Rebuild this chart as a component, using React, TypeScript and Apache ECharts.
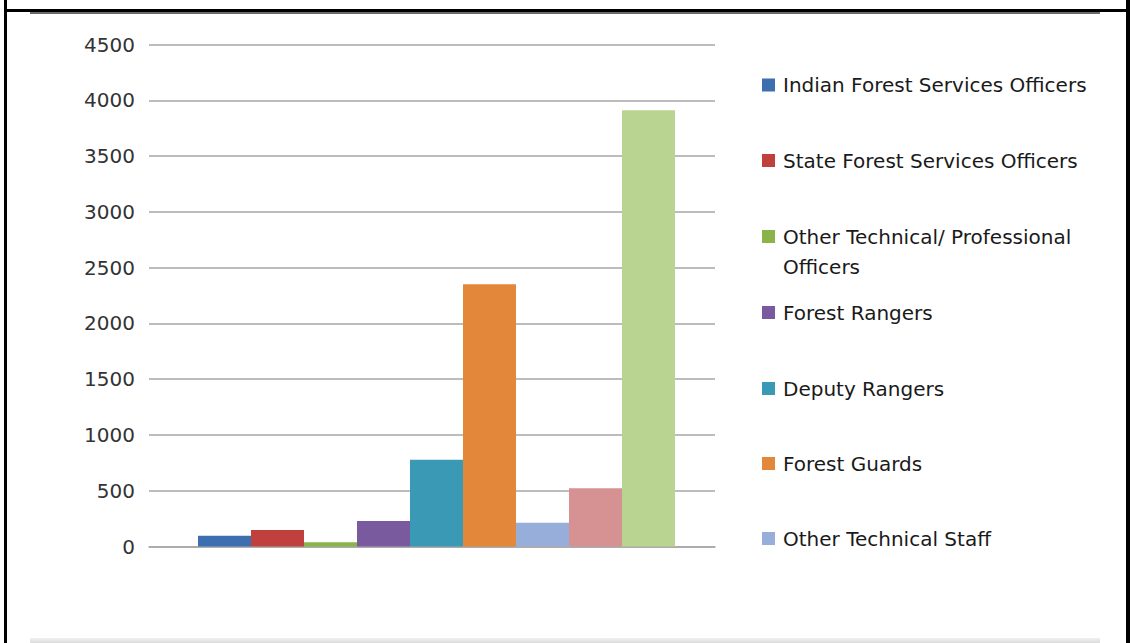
import React, { useEffect, useRef } from "react";
import * as echarts from "echarts";

const seriesNames = [
  "Indian Forest Services Officers",
  "State Forest Services Officers",
  "Other Technical/ Professional Officers",
  "Forest Rangers",
  "Deputy Rangers",
  "Forest Guards",
  "Other Technical Staff",
  "Ministerial Staff",
  "Other Staff",
];
const seriesValues = [97, 148, 38, 228, 778, 2350, 213, 522, 3910];
const seriesColors = [
  "#3D6FB0",
  "#C0403D",
  "#8AB34A",
  "#7A5A9E",
  "#3A9AB5",
  "#E3883A",
  "#98AEDA",
  "#D69292",
  "#B8D490",
];
const legendShown = 7;
const legendCenters = [85, 160.5, 236.5, 312.5, 388.5, 463.5, 538.5];
const categories = ["Staff"];

const FONT = "DejaVu Sans";

export default function App() {
  const ref = useRef<HTMLDivElement>(null);
  useEffect(() => {
    if (!ref.current) return;
    const chart = echarts.init(ref.current, undefined, { renderer: "svg" });
    const legends = seriesNames.slice(0, legendShown).map((name, i) => {
      const multi = i === 2;
      return {
        data: [name],
        left: 762,
        top: multi ? legendCenters[i] - 45 : legendCenters[i] - 15,
        orient: "vertical",
        padding: 0,
        itemWidth: 13,
        itemHeight: 13,
        icon: "rect",
        selectedMode: false,
        formatter: multi
          ? () => " \nOther Technical/ Professional\nOfficers"
          : undefined,
        textStyle: {
          fontFamily: FONT,
          fontSize: 20,
          color: "#1a1a1a",
          lineHeight: 30,
          padding: [0, 0, 0, 3],
        },
      };
    });
    const bars = seriesNames.map((name, i) => ({
      name,
      type: "bar",
      data: [seriesValues[i]],
      barWidth: 53,
      barGap: "0%",
      itemStyle: { color: seriesColors[i] },
    }));
    chart.setOption({
      animation: false,
      backgroundColor: "#ffffff",
      grid: { left: 149, right: 416, top: 44.5, bottom: 96.5 },
      legend: legends,
      xAxis: {
        type: "category",
        data: categories,
        axisLine: { show: true, lineStyle: { color: "#a6a6a6", width: 1.5 } },
        axisTick: { show: false },
        axisLabel: { show: false },
      },
      yAxis: {
        type: "value",
        min: 0,
        max: 4500,
        interval: 500,
        axisLine: { show: false },
        axisTick: { show: false },
        axisLabel: {
          fontFamily: FONT,
          fontSize: 20,
          color: "#333333",
          margin: 14,
          formatter: (v: number) => String(v),
        },
        splitLine: { lineStyle: { color: "#a6a6a6", width: 1.5 } },
      },
      series: [
        {
          name: "spacer",
          type: "bar",
          data: [null],
          barWidth: 9,
          barGap: "0%",
          silent: true,
        },
        ...bars,
      ],
      graphic: [
        { type: "rect", shape: { x: 4, y: 0, width: 3, height: 643 }, style: { fill: "#000" } },
        { type: "rect", shape: { x: 1126, y: 0, width: 4, height: 643 }, style: { fill: "#000" } },
        { type: "rect", shape: { x: 4, y: 9, width: 1126, height: 3 }, style: { fill: "#000" } },
        { type: "rect", shape: { x: 30, y: 12, width: 1070, height: 2 }, style: { fill: "#6a6a6a" } },
        {
          type: "rect",
          shape: { x: 30, y: 638, width: 1070, height: 5 },
          style: {
            fill: new echarts.graphic.LinearGradient(0, 0, 0, 1, [
              { offset: 0, color: "#f0f0f0" },
              { offset: 1, color: "#dcdcdc" },
            ]),
          },
        },
      ],
    });
    return () => chart.dispose();
  }, []);
  return (
    <div
      ref={ref}
      style={{ position: "fixed", left: 0, top: 0, width: 1131, height: 643 }}
    />
  );
}
